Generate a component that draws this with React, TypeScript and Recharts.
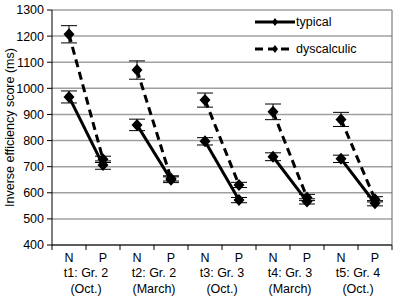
import React from "react";
import {
  LineChart,
  Line,
  XAxis,
  YAxis,
  CartesianGrid,
  ErrorBar,
  Legend,
} from "recharts";

const conditions = ["N", "P"];
const sessions = ["t1: Gr. 2", "t2: Gr. 2", "t3: Gr. 3", "t4: Gr. 3", "t5: Gr. 4"];
const months = ["(Oct.)", "(March)", "(Oct.)", "(March)", "(Oct.)"];

const typicalN = [967, 860, 797, 738, 730];
const typicalP = [706, 650, 572, 567, 560];
const typicalNErr = [23, 22, 14, 15, 14];
const typicalPErr = [16, 11, 10, 10, 10];

const dyscalculicN = [1207, 1070, 955, 910, 881];
const dyscalculicP = [728, 655, 630, 582, 575];
const dyscalculicNErr = [33, 35, 27, 30, 27];
const dyscalculicPErr = [12, 10, 10, 12, 10];

const yTicks = [400, 500, 600, 700, 800, 900, 1000, 1100, 1200, 1300];

// one row per N/P category, each session gets its own keys so lines break between sessions
const data: any[] = [];
sessions.forEach((s, i) => {
  conditions.forEach((c, j) => {
    const row: any = { key: `t${i + 1}${c}`, cond: c, session: i };
    row[`typ${i}`] = j === 0 ? typicalN[i] : typicalP[i];
    row[`typErr${i}`] = j === 0 ? typicalNErr[i] : typicalPErr[i];
    row[`dys${i}`] = j === 0 ? dyscalculicN[i] : dyscalculicP[i];
    row[`dysErr${i}`] = j === 0 ? dyscalculicNErr[i] : dyscalculicPErr[i];
    data.push(row);
  });
});

const W = 397;
const H = 306;
const margin = { top: 10, right: 0, left: 0, bottom: 0 };
const yAxisWidth = 52;
const rightAxisWidth = 5;
const halfBand =
  (W - margin.left - margin.right - yAxisWidth - rightAxisWidth) / data.length / 2;

const font = "'Liberation Sans', Arial, sans-serif";

const Diamond = (props: any) => {
  const { cx, cy } = props;
  if (cx == null || cy == null) return null;
  return (
    <polygon
      points={`${cx},${cy - 6} ${cx + 5.5},${cy} ${cx},${cy + 6} ${cx - 5.5},${cy}`}
      fill="#000"
    />
  );
};

const XTick = (props: any) => {
  const { x, y, index } = props;
  const row = data[index];
  if (!row) return null;
  const isLast = index === data.length - 1;
  return (
    <g>
      <line x1={x - halfBand} y1={y} x2={x - halfBand} y2={y + 5} stroke="#000" />
      {isLast && (
        <line x1={x + halfBand} y1={y} x2={x + halfBand} y2={y + 5} stroke="#000" />
      )}
      <text x={x} y={y + 17} textAnchor="middle" fontSize={12.5} fontFamily={font} fill="#000">
        {row.cond}
      </text>
      {row.cond === "N" && (
        <>
          <text x={x + halfBand} y={y + 32} textAnchor="middle" fontSize={12.5} fontFamily={font} fill="#000">
            {sessions[row.session]}
          </text>
          <text x={x + halfBand} y={y + 48} textAnchor="middle" fontSize={12.5} fontFamily={font} fill="#000">
            {months[row.session]}
          </text>
        </>
      )}
    </g>
  );
};

const LegendBox = () => (
  <div style={{ fontFamily: font, fontSize: 12.5, color: "#000" }}>
    <div style={{ display: "flex", alignItems: "center", height: 27 }}>
      <svg width={41} height={12}>
        <line x1={0} y1={6} x2={40} y2={6} stroke="#000" strokeWidth={3} />
        <polygon points="20,2 23,6 20,10 17,6" fill="#000" />
      </svg>
      <span>typical</span>
    </div>
    <div style={{ display: "flex", alignItems: "center", height: 27 }}>
      <svg width={41} height={12}>
        <line x1={0} y1={6} x2={38} y2={6} stroke="#000" strokeWidth={3} strokeDasharray="8 5" />
        <polygon points="20,2 23,6 20,10 17,6" fill="#000" />
      </svg>
      <span>dyscalculic</span>
    </div>
  </div>
);

export default function App() {
  return (
    <div style={{ position: "absolute", left: 0, top: 0 }}>
      <LineChart width={W} height={H} data={data} margin={margin}>
        <CartesianGrid vertical={false} stroke="#a0a0a0" strokeWidth={1.5} />
        <XAxis
          dataKey="key"
          scale="band"
          height={H - 245 - margin.bottom}
          axisLine={{ stroke: "#000" }}
          tickLine={false}
          tickSize={0}
          tickMargin={0}
          interval={0}
          tick={<XTick />}
        />
        <YAxis
          width={yAxisWidth}
          domain={[400, 1300]}
          ticks={yTicks}
          interval={0}
          axisLine={{ stroke: "#000" }}
          tickLine={{ stroke: "#000" }}
          tickSize={5}
          tickMargin={3}
          tick={{ fontSize: 12.5, fontFamily: font, fill: "#000" }}
          label={{
            value: "Inverse efficiency score (ms)",
            angle: -90,
            position: "insideLeft",
            offset: 10,
            style: { textAnchor: "middle", fontSize: 12.5, fontFamily: font, fill: "#000" },
          }}
        />
        <YAxis
          yAxisId="right"
          orientation="right"
          width={rightAxisWidth}
          domain={[400, 1300]}
          tick={false}
          tickLine={false}
          axisLine={{ stroke: "#666" }}
        />
        <Legend
          layout="vertical"
          align="center"
          verticalAlign="middle"
          wrapperStyle={{ left: 255, top: 8, width: 140 }}
          content={() => <LegendBox />}
        />
        {sessions.map((s, i) => (
          <Line
            key={`typ${i}`}
            dataKey={`typ${i}`}
            stroke="#000"
            strokeWidth={3}
            dot={<Diamond />}
            activeDot={false}
            isAnimationActive={false}
            connectNulls={false}
          >
            <ErrorBar dataKey={`typErr${i}`} width={8} stroke="#000" strokeWidth={1} />
          </Line>
        ))}
        {sessions.map((s, i) => (
          <Line
            key={`dys${i}`}
            dataKey={`dys${i}`}
            stroke="#000"
            strokeWidth={3}
            strokeDasharray="8 5"
            dot={<Diamond />}
            activeDot={false}
            isAnimationActive={false}
            connectNulls={false}
          >
            <ErrorBar dataKey={`dysErr${i}`} width={8} stroke="#000" strokeWidth={1} />
          </Line>
        ))}
      </LineChart>
    </div>
  );
}
